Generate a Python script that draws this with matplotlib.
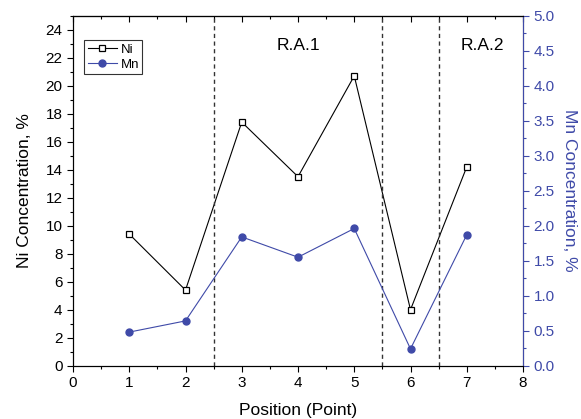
import matplotlib
matplotlib.use("Agg")
import matplotlib.pyplot as plt
from matplotlib.ticker import MultipleLocator, FormatStrFormatter

plt.rcParams['font.family'] = ['Liberation Sans', 'DejaVu Sans']

positions = [1, 2, 3, 4, 5, 6, 7]
ni_values = [9.4, 5.4, 17.4, 13.5, 20.7, 4.0, 14.2]
mn_values = [0.48, 0.64, 1.84, 1.55, 1.96, 0.24, 1.87]
boundaries = [2.5, 5.5, 6.5]
region_labels = ["R.A.1", "R.A.2"]
region_centers = [4, 7.27]

blue = "#3f4aa8"

fig = plt.figure(figsize=(5.81, 4.19), dpi=100)
ax = fig.add_axes([73 / 581, 1 - 365.7 / 419, 450 / 581, 350 / 419])
ax2 = ax.twinx()

l1, = ax.plot(positions, ni_values, color="black", lw=0.8, marker="s", ms=4,
              mfc="white", mec="black", mew=0.9, label="Ni")
l2, = ax2.plot(positions, mn_values, color=blue, lw=0.8, marker="o", ms=5,
               mfc=blue, mec=blue, label="Mn")

for b in boundaries:
    ax.axvline(b, color="#333333", lw=1.0, ls=(0, (3, 2.5)))

for txt, xc in zip(region_labels, region_centers):
    ax.text(xc, 22.9, txt, ha="center", va="center", fontsize=12.5)

ax.set_xlim(0, 8)
ax.set_ylim(0, 25)
ax2.set_ylim(0, 5)

ax.xaxis.set_major_locator(MultipleLocator(1))
ax.xaxis.set_minor_locator(MultipleLocator(0.5))
ax.set_yticks(range(0, 25, 2))
ax.yaxis.set_minor_locator(MultipleLocator(1))
ax2.yaxis.set_major_locator(MultipleLocator(0.5))
ax2.yaxis.set_minor_locator(MultipleLocator(0.25))

ax.tick_params(axis="both", which="major", direction="out", length=4, width=0.8, labelsize=11)
ax.tick_params(axis="both", which="minor", direction="out", length=2.5, width=0.8)
ax.tick_params(axis="x", which="both", top=False)
ax2.tick_params(axis="y", which="major", direction="out", length=4, width=0.8,
                colors=blue, labelsize=11)
ax2.tick_params(axis="y", which="minor", direction="out", length=2.5, width=0.8, colors=blue)
ax2.yaxis.set_major_formatter(FormatStrFormatter("%.1f"))

# top axis ticks point inward
secx = ax.secondary_xaxis("top")
secx.xaxis.set_major_locator(MultipleLocator(1))
secx.xaxis.set_minor_locator(MultipleLocator(0.5))
secx.tick_params(which="major", direction="in", length=4, width=0.8, labeltop=False)
secx.tick_params(which="minor", direction="in", length=2.5, width=0.8)

for sp in ax.spines.values():
    sp.set_linewidth(0.8)
for sp in ax2.spines.values():
    sp.set_linewidth(0.8)
ax2.spines["right"].set_color(blue)

ax.set_xlabel("Position (Point)", fontsize=12.5, labelpad=9)
ax.set_ylabel("Ni Concentration, %", fontsize=12.5, labelpad=10)
ax2.set_ylabel("Mn Concentration, %", fontsize=12.5, color=blue, rotation=270, labelpad=16)

leg = ax.legend(handles=[l1, l2], loc="upper left", bbox_to_anchor=(0.025, 0.93),
                fontsize=9.5, frameon=True, fancybox=False, edgecolor="black",
                handlelength=2.2, handletextpad=0.3, borderpad=0.25, labelspacing=0.2,
                borderaxespad=0)
leg.get_frame().set_linewidth(0.8)

fig.savefig("out.png", dpi=100)
